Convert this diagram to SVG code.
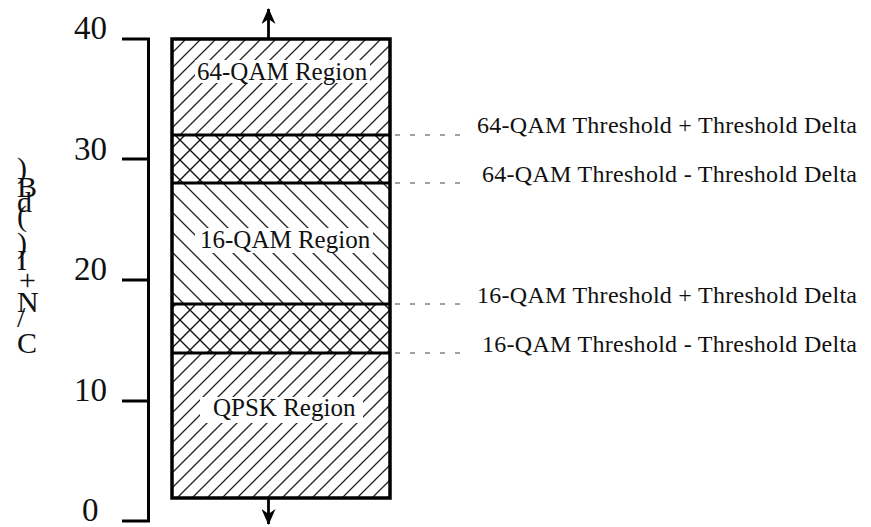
<svg xmlns="http://www.w3.org/2000/svg" width="871" height="527" viewBox="0 0 871 527">
  <style>
    .tick { font-size: 33px; }
    .lab { font-size: 24px; }
    .reg { font-size: 25px; }
    .axl { font-size: 30px; }
    .axis { stroke: #000; stroke-width: 3; fill: none; }
    .div { stroke: #000; stroke-width: 3; }
    .lead { stroke: #444; stroke-width: 1; stroke-dasharray: 5 10; fill: none; }
    .arrow { stroke: #000; stroke-width: 2.8; fill: none; marker-end: url(#arr); }
    .bg { fill: #fff; }
  </style>
  <defs>
    <pattern id="fwd" patternUnits="userSpaceOnUse" width="15" height="15">
      <path d="M-2,2 L2,-2 M0,15 L15,0 M13,17 L17,13" stroke="#222" stroke-width="1.3"/>
    </pattern>
    <pattern id="back" patternUnits="userSpaceOnUse" width="20" height="20">
      <path d="M-2,18 L2,22 M0,0 L20,20 M18,-2 L22,2" stroke="#222" stroke-width="1.3"/>
    </pattern>
    <pattern id="cross" patternUnits="userSpaceOnUse" width="20" height="20">
      <path d="M-2,18 L2,22 M0,0 L20,20 M18,-2 L22,2 M-2,2 L2,-2 M0,20 L20,0 M18,22 L22,18" stroke="#111" stroke-width="1.4"/>
    </pattern>
    <marker id="arr" viewBox="0 0 16 14" refX="15" refY="7" markerWidth="16" markerHeight="14" markerUnits="userSpaceOnUse" orient="auto">
      <path d="M0,0 L16,7 L0,14 L5,7 Z" fill="#000"/>
    </marker>
  </defs>
  <rect width="871" height="527" fill="#fff"/>

  <g font-family="'Liberation Serif', 'Times New Roman', serif" fill="#111">
  <g id="y-axis">
    <path class="axis" d="M122,39 H148.5 V521 H122 M122,159 H148.5 M122,280 H148.5 M122,401 H148.5"/>
    <text class="tick" x="74" y="39">40</text>
    <text class="tick" x="74" y="160">30</text>
    <text class="tick" x="74" y="280">20</text>
    <text class="tick" x="74" y="401">10</text>
    <text class="tick" x="82" y="521">0</text>
  </g>

  <g id="y-axis-title">
    <text class="axl" x="17" y="178">)</text>
    <text class="axl" x="17" y="197">B</text>
    <text class="axl" x="17" y="212">d</text>
    <text class="axl" x="17" y="226">(</text>
    <text class="axl" x="17" y="253">)</text>
    <text class="axl" x="17" y="270">I</text>
    <text class="axl" x="19" y="290">+</text>
    <text class="axl" x="17" y="312">N</text>
    <text class="axl" x="17" y="327">/</text>
    <text class="axl" x="17" y="353">C</text>
  </g>

  <g id="region-64qam">
    <rect x="172" y="39" width="218" height="96" fill="url(#fwd)"/>
    <rect class="bg" x="195" y="60" width="175" height="23"/>
    <text class="reg" x="197" y="80">64-QAM Region</text>
  </g>
  <g id="band-64qam-hysteresis">
    <rect x="172" y="135" width="218" height="48" fill="url(#cross)"/>
  </g>
  <g id="region-16qam">
    <rect x="172" y="183" width="218" height="121" fill="url(#back)"/>
    <rect class="bg" x="195" y="228" width="178" height="25"/>
    <text class="reg" x="200" y="248">16-QAM Region</text>
  </g>
  <g id="band-16qam-hysteresis">
    <rect x="172" y="304" width="218" height="49" fill="url(#cross)"/>
  </g>
  <g id="region-qpsk">
    <rect x="172" y="353" width="218" height="145" fill="url(#fwd)"/>
    <rect class="bg" x="200" y="397" width="163" height="26"/>
    <text class="reg" x="213" y="416">QPSK Region</text>
  </g>

  <g id="frame">
    <line class="div" x1="172" y1="135" x2="390" y2="135"/>
    <line class="div" x1="172" y1="183" x2="390" y2="183"/>
    <line class="div" x1="172" y1="304" x2="390" y2="304"/>
    <line class="div" x1="172" y1="353" x2="390" y2="353"/>
    <rect x="172" y="39" width="218" height="459" fill="none" stroke="#000" stroke-width="3.5"/>
  </g>

  <g id="connectors">
    <line class="arrow" x1="268.5" y1="39" x2="268.5" y2="9"/>
    <line class="arrow" x1="268.5" y1="498" x2="268.5" y2="524"/>
    <line class="lead" x1="395" y1="135" x2="465" y2="135"/>
    <line class="lead" x1="395" y1="183" x2="465" y2="183"/>
    <line class="lead" x1="395" y1="304" x2="465" y2="304"/>
    <line class="lead" x1="395" y1="353" x2="465" y2="353"/>
  </g>

  <g id="threshold-labels">
    <text class="lab" x="477" y="133" textLength="380" lengthAdjust="spacing">64-QAM Threshold + Threshold Delta</text>
    <text class="lab" x="482" y="182" textLength="375" lengthAdjust="spacing">64-QAM Threshold - Threshold Delta</text>
    <text class="lab" x="477" y="303" textLength="380" lengthAdjust="spacing">16-QAM Threshold + Threshold Delta</text>
    <text class="lab" x="482" y="352" textLength="375" lengthAdjust="spacing">16-QAM Threshold - Threshold Delta</text>
  </g>
  </g>
</svg>
